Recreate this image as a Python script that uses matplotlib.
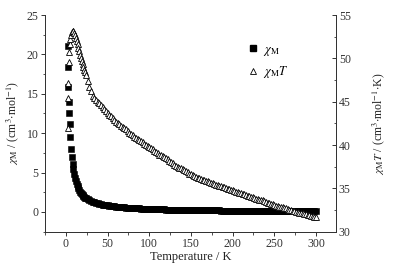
import matplotlib
matplotlib.use("Agg")
import matplotlib.pyplot as plt
from matplotlib.ticker import MultipleLocator
from matplotlib.lines import Line2D

plt.rcParams['font.family'] = ['Liberation Serif', 'DejaVu Serif']
plt.rcParams['mathtext.fontset'] = 'stix'

# ---- data ----
# low temperature part (K)
temp_low = [2, 2.5, 3, 3.5, 4, 4.5, 5, 6, 7, 8, 9, 10, 11, 12, 13, 14, 15, 16,
            17, 18, 19, 20, 21, 22, 23, 24, 26, 28]
chi_m_low = [21.1, 18.4, 15.9, 14.0, 12.5, 11.2, 9.5, 8.0, 7.0, 6.1, 5.4, 4.8,
             4.3, 3.9, 3.55, 3.25, 3.0, 2.75, 2.55, 2.4, 2.25, 2.1, 2.0, 1.9,
             1.82, 1.74, 1.6, 1.48]
chi_mt_low = [42.0, 45.4, 47.2, 49.6, 50.7, 51.6, 52.2, 52.7, 53.0, 53.1, 53.1,
              52.9, 52.7, 52.4, 52.0, 51.6, 51.2, 50.8, 50.4, 50.0, 49.7, 49.4,
              49.0, 48.7, 48.4, 48.1, 47.4, 46.7]

# 30 - 300 K
temp_high = [30, 32, 34, 36, 38, 40, 42, 44, 46, 48,
             50, 52, 54, 56, 58, 60, 62, 64, 66, 68,
             70, 72, 74, 76, 78, 80, 82, 84, 86, 88,
             90, 92, 94, 96, 98, 100, 102, 104, 106, 108,
             110, 112, 114, 116, 118, 120, 122, 124, 126, 128,
             130, 132, 134, 136, 138, 140, 142, 144, 146, 148,
             150, 152, 154, 156, 158, 160, 162, 164, 166, 168,
             170, 172, 174, 176, 178, 180, 182, 184, 186, 188,
             190, 192, 194, 196, 198, 200, 202, 204, 206, 208,
             210, 212, 214, 216, 218, 220, 222, 224, 226, 228,
             230, 232, 234, 236, 238, 240, 242, 244, 246, 248,
             250, 252, 254, 256, 258, 260, 262, 264, 266, 268,
             270, 272, 274, 276, 278, 280, 282, 284, 286, 288,
             290, 292, 294, 296, 298, 300]
chi_m_high = [1.38, 1.3, 1.23, 1.16, 1.1, 1.05, 1.0, 0.95, 0.91, 0.87,
              0.83, 0.8, 0.77, 0.74, 0.71, 0.69, 0.66, 0.64, 0.62, 0.6,
              0.58, 0.56, 0.545, 0.53, 0.515, 0.5, 0.485, 0.47, 0.46, 0.45,
              0.44, 0.43, 0.42, 0.41, 0.4, 0.39, 0.38, 0.37, 0.362, 0.355,
              0.348, 0.34, 0.332, 0.325, 0.318, 0.31, 0.305, 0.3, 0.295, 0.29,
              0.285, 0.28, 0.275, 0.27, 0.265, 0.26, 0.255, 0.25, 0.245, 0.24,
              0.237, 0.235, 0.232, 0.23, 0.225, 0.22, 0.217, 0.215, 0.212, 0.21,
              0.207, 0.205, 0.202, 0.2, 0.197, 0.195, 0.192, 0.19, 0.187, 0.185,
              0.182, 0.18, 0.177, 0.175, 0.172, 0.17, 0.169, 0.168, 0.166, 0.165,
              0.162, 0.16, 0.159, 0.158, 0.156, 0.155, 0.152, 0.15, 0.149, 0.148,
              0.146, 0.145, 0.143, 0.142, 0.141, 0.14, 0.138, 0.137, 0.135, 0.134,
              0.132, 0.131, 0.13, 0.128, 0.127, 0.126, 0.125, 0.124, 0.123, 0.122,
              0.121, 0.12, 0.119, 0.118, 0.117, 0.116, 0.115, 0.114, 0.113, 0.112,
              0.111, 0.11, 0.109, 0.108, 0.107, 0.106]
chi_mt_high = [46.2, 45.7, 45.45, 45.2, 45.0, 44.8, 44.6, 44.4, 44.15, 43.9,
               43.7, 43.5, 43.3, 43.1, 42.9, 42.7, 42.55, 42.4, 42.25, 42.1,
               41.95, 41.8, 41.6, 41.4, 41.25, 41.1, 40.95, 40.8, 40.7, 40.6,
               40.45, 40.3, 40.15, 40.0, 39.9, 39.8, 39.65, 39.5, 39.35, 39.2,
               39.05, 38.9, 38.8, 38.7, 38.6, 38.5, 38.35, 38.2, 38.05, 37.9,
               37.75, 37.6, 37.5, 37.4, 37.3, 37.2, 37.1, 37.0, 36.85, 36.7,
               36.6, 36.5, 36.4, 36.3, 36.25, 36.2, 36.1, 36.0, 35.95, 35.9,
               35.8, 35.7, 35.65, 35.6, 35.5, 35.4, 35.35, 35.3, 35.25, 35.2,
               35.1, 35.0, 34.95, 34.9, 34.85, 34.8, 34.7, 34.6, 34.55, 34.5,
               34.45, 34.4, 34.3, 34.2, 34.15, 34.1, 34.05, 34.0, 33.9, 33.8,
               33.75, 33.7, 33.65, 33.6, 33.5, 33.4, 33.35, 33.3, 33.25, 33.2,
               33.1, 33.0, 32.95, 32.9, 32.85, 32.8, 32.75, 32.7, 32.6, 32.5,
               32.45, 32.4, 32.35, 32.3, 32.25, 32.2, 32.15, 32.1, 32.05, 32.0,
               31.95, 31.9, 31.85, 31.8, 31.75, 31.7]

temp = temp_low + temp_high
chi_m = chi_m_low + chi_m_high
chi_mt = chi_mt_low + chi_mt_high

# ---- figure ----
fig = plt.figure(figsize=(3.93, 2.68), dpi=100)
ax = fig.add_axes([0.1145, 0.1355, 0.7405, 0.8085])
ax2 = ax.twinx()

ax.plot(temp, chi_m, 's', color='black', markersize=3.8, markeredgewidth=0.4)
ax2.plot(temp, chi_mt, '^', markerfacecolor='white', markeredgecolor='black',
         markersize=4.5, markeredgewidth=0.6)

ax.set_xlim(-25, 324)
ax.set_ylim(-2.5, 25)
ax2.set_ylim(30, 55)

ax.xaxis.set_major_locator(MultipleLocator(50))
ax.xaxis.set_minor_locator(MultipleLocator(25))
ax.yaxis.set_major_locator(MultipleLocator(5))
ax.yaxis.set_minor_locator(MultipleLocator(2.5))
ax2.yaxis.set_major_locator(MultipleLocator(5))
ax2.yaxis.set_minor_locator(MultipleLocator(2.5))

for a in (ax, ax2):
    a.spines['top'].set_visible(False)
    for s in a.spines.values():
        s.set_linewidth(0.7)
        s.set_color('#333333')

ax.tick_params(which='major', direction='out', length=3, width=0.7,
               labelsize=8.5, colors='#333333', pad=1.5)
ax.tick_params(which='minor', direction='out', length=1.8, width=0.6, colors='#333333')
ax2.tick_params(which='major', direction='in', length=3, width=0.7,
                labelsize=8.5, colors='#333333', pad=2)
ax2.tick_params(which='minor', direction='in', length=1.8, width=0.6, colors='#333333')

ax.set_xlabel('Temperature / K', fontsize=9, labelpad=1, color='#222222')
ax.set_ylabel(r'$\chi_{\rm M}$ / (cm$^3$$\cdot$mol$^{-1}$)', fontsize=8.5,
              labelpad=4, color='#222222')
ax2.set_ylabel(r'$\chi_{\rm M}T$ / (cm$^3$$\cdot$mol$^{-1}$$\cdot$K)', fontsize=8.5,
               labelpad=14, color='#222222', rotation=90)

handles = [
    Line2D([], [], marker='s', color='black', linestyle='none', markersize=3.8),
    Line2D([], [], marker='^', markerfacecolor='white', markeredgecolor='black',
           linestyle='none', markersize=4.5, markeredgewidth=0.6),
]
ax2.legend(handles, [r'$\chi_{\rm M}$', r'$\chi_{\rm M}T$'], loc='upper left',
           bbox_to_anchor=(0.66, 0.92), frameon=False, fontsize=9,
           handlelength=0.8, handletextpad=0.4, labelspacing=0.55)

fig.savefig('out.png', dpi=100)
